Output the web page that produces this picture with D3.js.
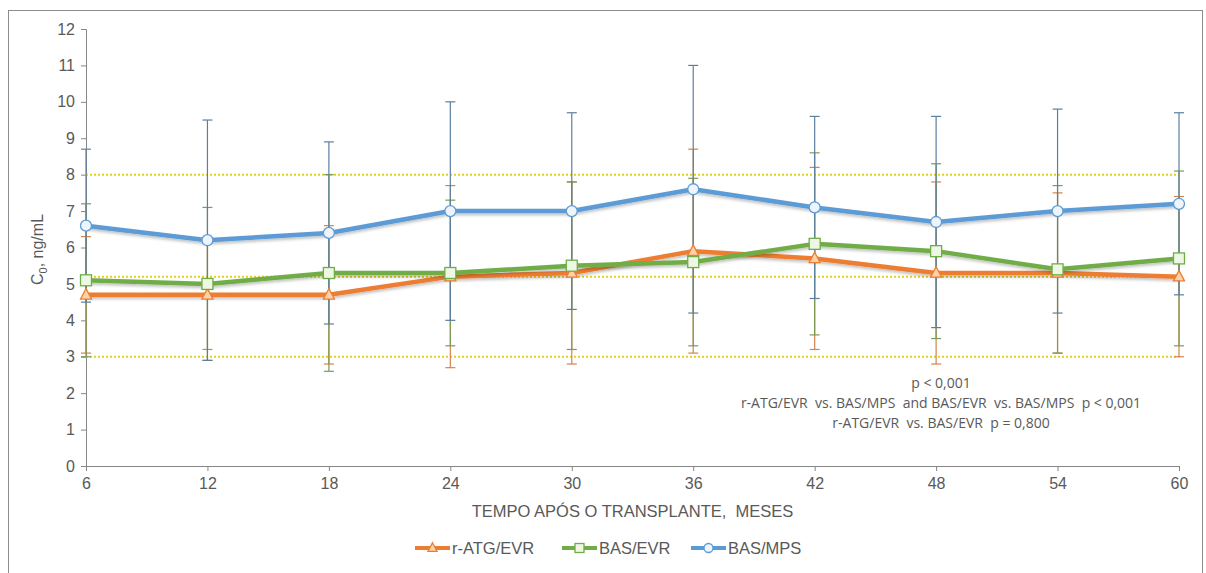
<!DOCTYPE html>
<html>
<head>
<meta charset="utf-8">
<script src="https://cdn.jsdelivr.net/npm/d3@7"></script>
<style>
  body { margin: 0; background: #fff; }
  text { font-family: "Liberation Sans", Arial, sans-serif; white-space: pre; }
</style>
</head>
<body>
<div id="chart-container"></div>
<script>
// Dataset
const months = [6, 12, 18, 24, 30, 36, 42, 48, 54, 60];
const atgMean = [4.7, 4.7, 4.7, 5.2, 5.3, 5.9, 5.7, 5.3, 5.3, 5.2];
const atgSd   = [1.6, 1.5, 1.9, 2.5, 2.5, 2.8, 2.5, 2.5, 2.2, 2.2];
const evrMean = [5.1, 5.0, 5.3, 5.3, 5.5, 5.6, 6.1, 5.9, 5.4, 5.7];
const evrSd   = [2.1, 2.1, 2.7, 2.0, 2.3, 2.3, 2.5, 2.4, 2.3, 2.4];
const mpsMean = [6.6, 6.2, 6.4, 7.0, 7.0, 7.6, 7.1, 6.7, 7.0, 7.2];
const mpsSd   = [2.1, 3.3, 2.5, 3.0, 2.7, 3.4, 2.5, 2.9, 2.8, 2.5];
const refLines = [3, 5.2, 8];
const yTicks = d3.range(0, 13);
const seriesNames = ["r-ATG/EVR", "BAS/EVR", "BAS/MPS"];
const notes = [
    "p < 0,001",
    "r-ATG/EVR  vs. BAS/MPS  and BAS/EVR  vs. BAS/MPS  p < 0,001",
    "r-ATG/EVR  vs. BAS/EVR  p = 0,800"
];

const width = 1206, height = 573;
const margin = { top: 29, right: 27, bottom: 107, left: 86 };

function init() {
    const svg = d3.select("#chart-container")
        .append("svg")
        .attr("width", width)
        .attr("height", height);

    // drop shadow for the lines
    const defs = svg.append("defs");
    const f = defs.append("filter").attr("id", "shadow")
        .attr("x", "-5%").attr("y", "-20%").attr("width", "110%").attr("height", "160%");
    f.append("feDropShadow").attr("dx", 0).attr("dy", 2).attr("stdDeviation", 1.5)
        .attr("flood-color", "#000").attr("flood-opacity", 0.25);

    // outer frame
    svg.append("rect")
        .attr("x", 8.5).attr("y", 10.5)
        .attr("width", 1194).attr("height", 620)
        .attr("fill", "none").attr("stroke", "#8c8c8c").attr("stroke-width", 1);

    const xScale = d3.scaleLinear()
        .domain([6, 60])
        .range([margin.left, width - margin.right]);
    const yScale = d3.scaleLinear()
        .domain([0, 12])
        .range([height - margin.bottom, margin.top]);

    // Y axis
    const yAxis = svg.append("g")
        .attr("transform", `translate(${margin.left},0)`)
        .call(d3.axisLeft(yScale).tickValues(yTicks).tickSize(5).tickPadding(6));
    yAxis.select(".domain").attr("stroke", "#868686");
    yAxis.selectAll(".tick line").attr("stroke", "#868686");
    yAxis.selectAll(".tick text")
        .attr("fill", "#595959")
        .style("font-size", "16px")
        .style("font-family", "'Liberation Sans', Arial, sans-serif");

    // X axis
    const xAxis = svg.append("g")
        .attr("transform", `translate(0,${yScale(0)})`)
        .call(d3.axisBottom(xScale).tickValues(months).tickSize(5).tickPadding(7).tickSizeOuter(0));
    xAxis.select(".domain").attr("stroke", "#868686");
    xAxis.selectAll(".tick line").attr("stroke", "#868686");
    xAxis.selectAll(".tick text")
        .attr("fill", "#595959")
        .style("font-size", "16px")
        .style("font-family", "'Liberation Sans', Arial, sans-serif");

    // Axis titles
    svg.append("text")
        .attr("x", (xScale(6) + xScale(60)) / 2)
        .attr("y", 517)
        .attr("text-anchor", "middle")
        .attr("fill", "#595959")
        .style("font-size", "16.5px")
        .text("TEMPO APÓS O TRANSPLANTE,  MESES");

    const yt = svg.append("text")
        .attr("transform", `translate(43,${yScale(6) + 2}) rotate(-90)`)
        .attr("text-anchor", "middle")
        .attr("fill", "#595959")
        .style("font-size", "16px");
    yt.append("tspan").text("C");
    yt.append("tspan").attr("dy", 4).style("font-size", "11px").text("0");
    yt.append("tspan").attr("dy", -4).text(", ng/mL");

    // reference lines
    svg.selectAll("line.ref")
        .data(refLines)
        .enter()
        .append("line")
        .attr("class", "ref")
        .attr("x1", xScale(6)).attr("x2", xScale(60))
        .attr("y1", d => yScale(d)).attr("y2", d => yScale(d))
        .attr("stroke", "#e3d21c")
        .attr("stroke-width", 2)
        .attr("stroke-dasharray", "2,2");

    const series = [
        { name: seriesNames[0], mean: atgMean, sd: atgSd, color: "#ED7D31", bar: "#d5844a", fill: "#fbd3a9", shape: "triangle" },
        { name: seriesNames[1], mean: evrMean, sd: evrSd, color: "#70AD47", bar: "#7a9c55", fill: "#eef6e4", shape: "square" },
        { name: seriesNames[2], mean: mpsMean, sd: mpsSd, color: "#5B9BD5", bar: "#5c7f9f", fill: "#eef4fb", shape: "circle" }
    ];

    // error bars
    series.forEach(s => {
        const g = svg.append("g");
        months.forEach((m, i) => {
            const x = xScale(m);
            const lo = yScale(s.mean[i] - s.sd[i]);
            const hi = yScale(s.mean[i] + s.sd[i]);
            g.append("line").attr("x1", x).attr("x2", x).attr("y1", lo).attr("y2", hi)
                .attr("stroke", s.bar).attr("stroke-width", 1.2);
            [lo, hi].forEach(y => {
                g.append("line").attr("x1", x - 5).attr("x2", x + 5).attr("y1", y).attr("y2", y)
                    .attr("stroke", s.bar).attr("stroke-width", 1.2);
            });
        });
    });

    const line = d3.line()
        .x((d, i) => xScale(months[i]))
        .y(d => yScale(d));

    function drawMarker(g, shape, x, y, s, size) {
        if (shape === "circle") {
            g.append("circle").attr("cx", x).attr("cy", y).attr("r", size / 2)
                .attr("fill", s.fill).attr("stroke", s.color).attr("stroke-width", 1.3);
        } else if (shape === "square") {
            g.append("rect").attr("x", x - size / 2).attr("y", y - size / 2)
                .attr("width", size).attr("height", size)
                .attr("fill", s.fill).attr("stroke", s.color).attr("stroke-width", 1.3);
        } else {
            const h = size * 0.95;
            g.append("path")
                .attr("d", `M${x},${y - h / 2 - 1}L${x + size / 2},${y + h / 2 - 1}L${x - size / 2},${y + h / 2 - 1}Z`)
                .attr("fill", s.fill).attr("stroke", s.color).attr("stroke-width", 1.3);
        }
    }

    // lines and markers
    series.forEach(s => {
        svg.append("path")
            .datum(s.mean)
            .attr("d", line)
            .attr("fill", "none")
            .attr("stroke", s.color)
            .attr("stroke-width", 4.5)
            .attr("stroke-linejoin", "round")
            .attr("filter", "url(#shadow)");
        const g = svg.append("g");
        s.mean.forEach((v, i) => drawMarker(g, s.shape, xScale(months[i]), yScale(v), s, 11));
    });

    // annotation
    svg.selectAll("text.note")
        .data(notes)
        .enter()
        .append("text")
        .attr("class", "note")
        .attr("x", 941)
        .attr("y", (d, i) => 388 + i * 20)
        .attr("text-anchor", "middle")
        .attr("fill", "#595959")
        .style("font-family", "'Open Sans', sans-serif")
        .style("font-size", "14px")
        .text(d => d);

    // legend
    const legendX = [415, 562, 691];
    const legend = svg.selectAll("g.legend")
        .data(series)
        .enter()
        .append("g")
        .attr("class", "legend")
        .attr("transform", (d, i) => `translate(${legendX[i]},548)`);
    legend.append("line")
        .attr("x1", 0).attr("x2", 35).attr("y1", 0).attr("y2", 0)
        .attr("stroke", d => d.color).attr("stroke-width", 4);
    legend.each(function (d) {
        drawMarker(d3.select(this), d.shape, 17.5, 0, d, 9);
    });
    legend.append("text")
        .attr("x", 37)
        .attr("y", 6)
        .attr("fill", "#595959")
        .style("font-size", "16.5px")
        .text(d => d.name);
}

window.onload = init;
</script>
</body>
</html>
